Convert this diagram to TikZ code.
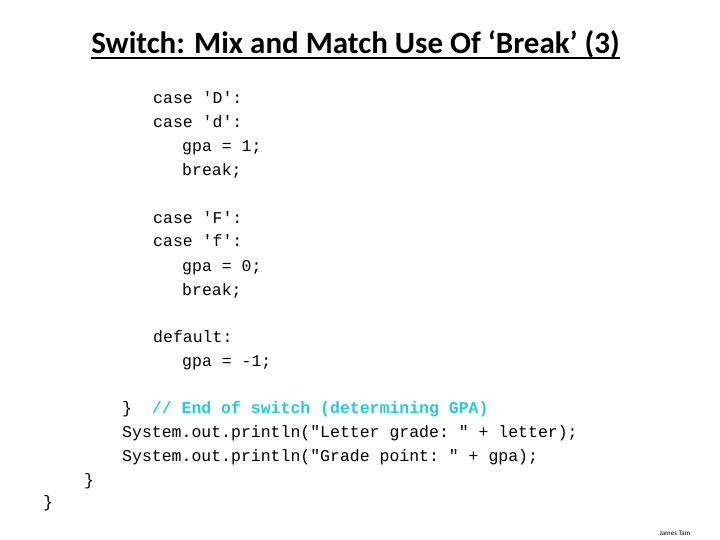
\documentclass[tikz,border=0pt]{standalone}
\usepackage{fontspec}
\usetikzlibrary{calc}
\setmainfont{Carlito}
\setmonofont{Liberation Mono}
\definecolor{cmt}{HTML}{22CCDD}
\begin{document}
\begin{tikzpicture}[x=1pt,y=1pt,
  code/.style={anchor=base west,inner sep=0pt,font=\fontsize{16.5}{18}\ttfamily},
  ttl/.style={anchor=base,inner sep=0pt,font=\fontsize{31}{34}\bfseries}]
\useasboundingbox[fill=white] (0,0) rectangle (720,-540);
\node[ttl] (t) at (355.5,-54) {Switch: Mix and Match Use Of ‘Break’ (3)};
\draw[line width=1.3pt] ($(t.base west)+(0,-4)$) -- ($(t.base east)+(0,-4)$);
\node[code] (l1) at (153,-104) {case 'D':};
\node[code] (l2) at (153,-128) {case 'd':};
\node[code] (l3) at (182,-152) {gpa = 1;};
\node[code] (l4) at (182,-176) {break;};
\node[code] (l5) at (153,-223) {case 'F':};
\node[code] (l6) at (153,-247) {case 'f':};
\node[code] (l7) at (182,-271) {gpa = 0;};
\node[code] (l8) at (182,-295) {break;};
\node[code] (l9) at (153,-342) {default:};
\node[code] (l10) at (182,-366) {gpa = -1;};
\node[code] (l11) at (122,-413) {\}\ \ \textcolor{cmt}{\bfseries // End of switch (determining GPA)}};
\node[code] (l12) at (122,-437) {System.out.println("Letter grade: " + letter);};
\node[code] (l13) at (122,-461) {System.out.println("Grade point: " + gpa);};
\node[code] (l14) at (84,-485) {\}};
\node[code] (l15) at (43,-507) {\}};
\node[anchor=base,inner sep=0pt,font=\fontsize{7}{8}\selectfont] (f) at (675,-535) {James Tam};
\end{tikzpicture}
\end{document}
